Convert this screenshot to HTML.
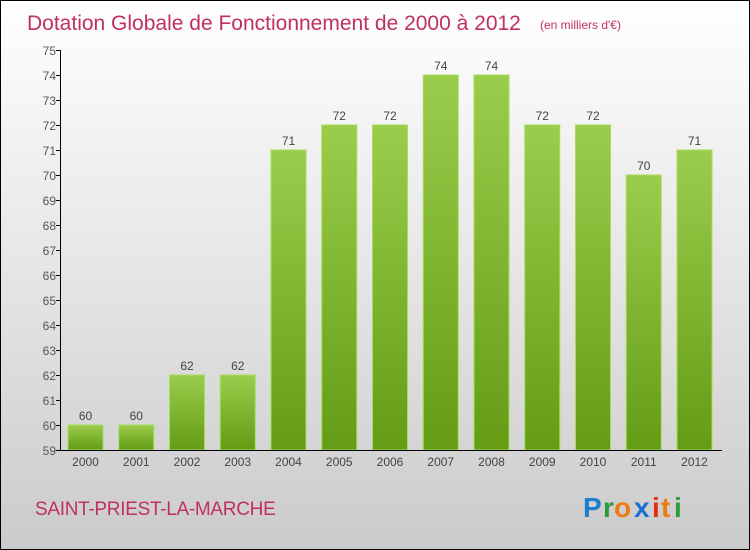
<!DOCTYPE html>
<html><head><style>
body{margin:0}
svg{display:block}
text{font-family:"Liberation Sans",sans-serif}
</style></head><body>
<svg width="750" height="550" xmlns="http://www.w3.org/2000/svg">
<defs>
<linearGradient id="bg" x1="0" y1="0" x2="0" y2="1"><stop offset="0" stop-color="#ffffff"/><stop offset="1" stop-color="#cbcbcb"/></linearGradient>
<linearGradient id="bar" x1="0" y1="0" x2="0" y2="1"><stop offset="0" stop-color="#9acd4c"/><stop offset="1" stop-color="#649c16"/></linearGradient>
</defs>
<rect x="0.5" y="0.5" width="749" height="549" fill="url(#bg)" stroke="#000"/>
<text x="27" y="30" font-size="21" fill="#c0305e">Dotation Globale de Fonctionnement de 2000 à 2012</text>
<text x="540" y="29" font-size="12" fill="#c0305e">(en milliers d'€)</text>
<g id="bars"></g>
<line x1="60.5" y1="50" x2="60.5" y2="450" stroke="#000"/>
<line x1="60" y1="450.5" x2="722" y2="450.5" stroke="#000"/>
<g id="yt" font-size="12" fill="#555" text-anchor="end"></g>
<g id="xt" font-size="12" fill="#444" text-anchor="middle"></g>
<text x="35" y="515" font-size="19" fill="#c0305e" letter-spacing="-0.3">SAINT-PRIEST-LA-MARCHE</text>
<g font-size="28" font-weight="bold" font-family="Liberation Sans">
<text x="583" y="517" fill="#1a7fd0">P</text><text x="603" y="517" fill="#2a9a3a">r</text><text x="614" y="517" fill="#f07a10">o</text><text x="634" y="517" fill="#1a6fd0">x</text><text x="652" y="517" fill="#e03010">i</text><text x="661" y="517" fill="#f07a10">t</text><text x="674" y="517" fill="#2a9a3a">i</text>
</g>
<script>
var v=[60,60,62,62,71,72,72,74,74,72,72,70,71],ns="http://www.w3.org/2000/svg";
function el(t,a,p,txt){var e=document.createElementNS(ns,t);for(var k in a)e.setAttribute(k,a[k]);if(txt!=null)e.textContent=txt;document.getElementById(p).appendChild(e);}
for(var i=0;i<13;i++){var x=68+i*50.75,y=450-(v[i]-59)*25;
el('rect',{x:x,y:y,width:35,height:450-y,fill:'url(#bar)',stroke:'#a8dc5c','stroke-width':1},'bars');
el('text',{x:x+17.5,y:y-5,'font-size':12,fill:'#444','text-anchor':'middle'},'bars',v[i]);
el('text',{x:x+17.5,y:466},'xt',2000+i);}
for(var t=59;t<=75;t++){var y=450-(t-59)*25;el('text',{x:56,y:y+5},'yt',t);el('line',{x1:56,y1:y+0.5,x2:61,y2:y+0.5,stroke:'#000'},'yt');}
</script>
</svg>
</body></html>
